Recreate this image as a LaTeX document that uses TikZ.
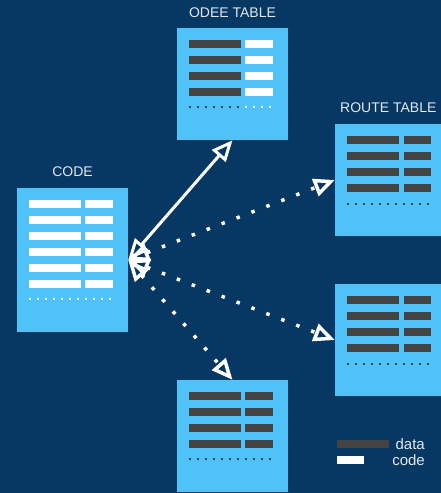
\documentclass[tikz,border=0pt]{standalone}
\usepackage{fontspec}
\setmainfont{Liberation Sans}
\usetikzlibrary{arrows.meta}
\definecolor{bg}{HTML}{073763}
\definecolor{boxblue}{HTML}{4FC3F7}
\definecolor{bardark}{HTML}{434343}
\definecolor{labelgray}{HTML}{E3E8EE}
\tikzset{
  tablebox/.style={fill=boxblue, draw=none, minimum width=111pt, minimum height=112pt, inner sep=0pt},
  lbl/.style={text=labelgray, font=\fontsize{14}{16}\selectfont, inner sep=0pt},
  link/.style={white, line width=3pt, {Triangle[open,length=21pt,width=18pt]}-{Triangle[open,length=21pt,width=18pt]}},
  dotlink/.style={link, line width=3.5pt, dash pattern=on 3.5pt off 12.5pt},
  rowdots/.style={line width=2pt, dash pattern=on 2pt off 6pt}
}
% #1 left x, #2 top y, #3 number of rows, #4 colour of long bar, #5 colour of short bar, #6 short bar start offset, #7 dots offset
\newcommand{\tablerows}[7]{%
  \foreach \i in {1,...,#3}{%
    \fill[#4] ({#1+12},{#2+12+16*(\i-1)}) rectangle ({#1+64},{#2+20+16*(\i-1)});
    \fill[#5] ({#1+#6},{#2+12+16*(\i-1)}) rectangle ({#1+96},{#2+20+16*(\i-1)});
  }
  \draw[rowdots,#4] ({#1+12},{#2+#7}) -- ({#1+65},{#2+#7});
  \draw[rowdots,#5] ({#1+68},{#2+#7}) -- ({#1+97},{#2+#7});
}
\begin{document}
\begin{tikzpicture}[x=1pt,y=-1pt]
  \fill[bg] (0,0) rectangle (441,493);
  \useasboundingbox (0,0) rectangle (441,493);

  % boxes
  \node[tablebox, minimum height=144pt] (code) at (72.5,260) {};
  \node[tablebox] (odee) at (232.5,84) {};
  \node[tablebox] (route) at (390.5,180) {};
  \node[tablebox] (right2) at (390.5,340) {};
  \node[tablebox] (bottom) at (232.5,436) {};

  % rows
  \tablerows{17}{188}{6}{white}{white}{68}{111}
  \tablerows{177}{28}{4}{bardark}{white}{68}{79}
  \tablerows{335}{124}{4}{bardark}{bardark}{69}{80}
  \tablerows{335}{284}{4}{bardark}{bardark}{69}{80}
  \tablerows{177}{380}{4}{bardark}{bardark}{68}{79}

  % labels
  \node[lbl] (lodee) at (232.5,13) {ODEE TABLE};
  \node[lbl] (lcode) at (72.5,172) {CODE};
  \node[lbl, anchor=west] (lroute) at (340,108) {ROUTE TABLE};

  % connectors
  \draw[link] (code.east) -- (odee.south);
  \draw[dotlink] (code.east) -- (route.west);
  \draw[dotlink] (code.east) -- (right2.west);
  \draw[dotlink] (code.east) -- (bottom.north);

  % legend
  \fill[bardark] (337,440) rectangle (389,448);
  \fill[white] (337,456) rectangle (364,464);
  \node[lbl, anchor=east, font=\fontsize{15}{17}\selectfont] (ldata) at (425,444) {data};
  \node[lbl, anchor=east, font=\fontsize{15}{17}\selectfont] (lcodeleg) at (425,460) {code};
\end{tikzpicture}
\end{document}
